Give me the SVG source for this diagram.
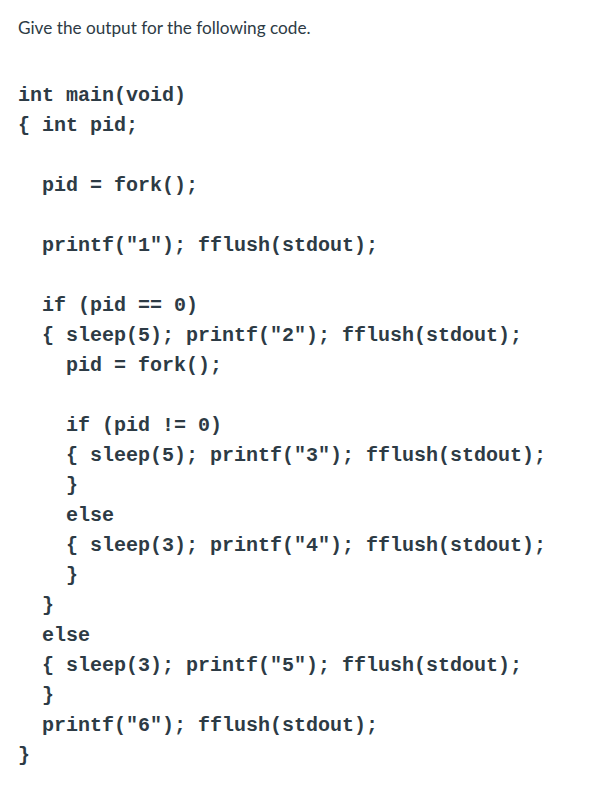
<svg xmlns="http://www.w3.org/2000/svg" width="614" height="790" viewBox="0 0 614 790">
<style>
.h{font-family:Lato,"Liberation Sans",sans-serif;font-size:17.2px;fill:#2d3b45}
.c{font-family:"Liberation Mono",monospace;font-size:20px;font-weight:bold;fill:#2d3b45;white-space:pre}
</style>
<rect width="614" height="790" fill="#fff"/>
<text class="h" x="18" y="34">Give the output for the following code.</text>
<g xml:space="preserve">
<text class="c" x="18" y="101">int main(void)</text>
<text class="c" x="18" y="131">{ int pid;</text>
<text class="c" x="42" y="191">pid = fork();</text>
<text class="c" x="42" y="251">printf("1"); fflush(stdout);</text>
<text class="c" x="42" y="311">if (pid == 0)</text>
<text class="c" x="42" y="341">{ sleep(5); printf("2"); fflush(stdout);</text>
<text class="c" x="66" y="371">pid = fork();</text>
<text class="c" x="66" y="431">if (pid != 0)</text>
<text class="c" x="66" y="461">{ sleep(5); printf("3"); fflush(stdout);</text>
<text class="c" x="66" y="491">}</text>
<text class="c" x="66" y="521">else</text>
<text class="c" x="66" y="551">{ sleep(3); printf("4"); fflush(stdout);</text>
<text class="c" x="66" y="581">}</text>
<text class="c" x="42" y="611">}</text>
<text class="c" x="42" y="641">else</text>
<text class="c" x="42" y="671">{ sleep(3); printf("5"); fflush(stdout);</text>
<text class="c" x="42" y="701">}</text>
<text class="c" x="42" y="731">printf("6"); fflush(stdout);</text>
<text class="c" x="18" y="761">}</text>
</g>
</svg>
